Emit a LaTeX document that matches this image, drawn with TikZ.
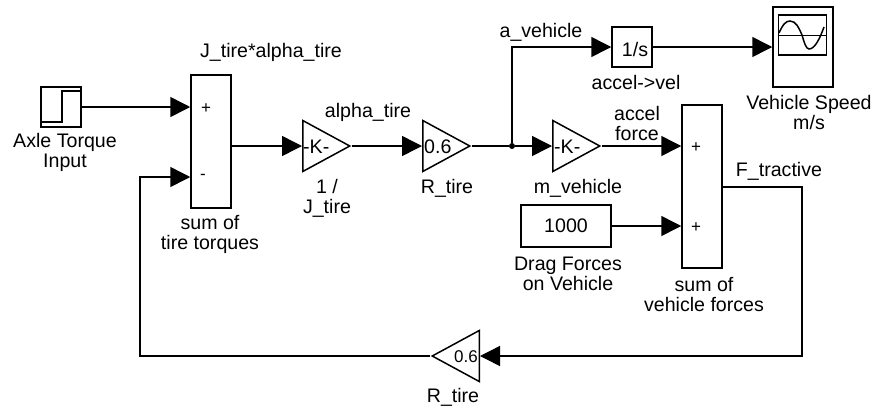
\documentclass[tikz,border=0pt]{standalone}
\usepackage{fontspec}
\setmainfont{Liberation Sans}
\usetikzlibrary{arrows.meta,shapes.geometric}
\tikzset{
  blockbox/.style={draw,line width=1.5pt,inner sep=0pt},
  gainbox/.style={draw,line width=1.5pt,inner sep=0pt,isosceles triangle,isosceles triangle stretches,
    minimum width=51pt,minimum height=47pt},
  lbl/.style={font=\fontsize{19.6}{20}\selectfont,align=center,inner sep=0pt},
  signlbl/.style={font=\fontsize{17}{18}\selectfont,inner sep=0pt},
  wire/.style={line width=1.5pt,->}
}
\begin{document}
\begin{tikzpicture}[x=1pt,y=-1pt,>={Triangle[length=20pt,width=20pt]}]
  \useasboundingbox (0,0) rectangle (874,408);
  % Blocks of the tire loop
  \node[blockbox,minimum width=40pt,minimum height=40pt] (torqueStep) at (61,107) {};
  \node[blockbox,minimum width=40pt,minimum height=133pt] (sumTire) at (211,141.5) {};
  \node[gainbox,anchor=lower side] (gainJ) at (302,146) {};
  \node[gainbox,anchor=lower side] (gainR) at (422,146) {};
  \node[gainbox,anchor=lower side,shape border rotate=180] (gainBack) at (480,356) {};
  % Blocks of the vehicle part
  \node[gainbox,anchor=lower side] (gainM) at (552,146) {};
  \node[blockbox,minimum width=40pt,minimum height=40pt] (integ) at (632,47) {};
  \node[blockbox,minimum width=60pt,minimum height=80pt] (scope) at (803,47) {};
  \node[blockbox,minimum width=90pt,minimum height=42pt,lbl] (drag) at (566,226) {1000};
  \node[blockbox,minimum width=40pt,minimum height=163pt] (sumVeh) at (702,186.5) {};
  \node[blockbox,minimum width=48pt,minimum height=40pt] (screen) at (802.5,35) {};
  \node[circle,fill,inner sep=0pt,minimum size=6pt] (split) at (512,146) {};
  \coordinate (fbk) at (140,177);
  % Icons
  \draw[line width=1.5pt] (42,122) -- (62,122) -- (62,91) -- (80,91);
  \draw[line width=1pt] (screen.west) -- (screen.east);
  \draw[line width=1.5pt] (779,33) .. controls (783,24) and (786,21) .. (790,21)
    .. controls (796,21) and (799,28) .. (802,35)
    .. controls (804,42) and (806,49) .. (809,49)
    .. controls (815,49) and (820,38) .. (824,27);
  % Texts in blocks
  \node[lbl] (integtxt) at (635,49) {1/s};
  \node[lbl,anchor=west] (gainJtxt) at (303,147) {-K-};
  \node[lbl,anchor=west] (gainRtxt) at (424,147) {0.6};
  \node[lbl,anchor=west] (gainMtxt) at (554,147) {-K-};
  \node[lbl,font=\fontsize{17}{20}\selectfont,anchor=east] (gainBacktxt) at (478,357) {0.6};
  \node[signlbl] (plusTire) at (206,109) {+};
  \node[signlbl] (minusTire) at (203,177) {-};
  \node[signlbl] (plusA) at (696,148) {+};
  \node[signlbl] (plusB) at (696,228) {+};
  % Labels
  \node[lbl] (lblStep) at (65,152) {Axle Torque\\Input};
  \node[lbl] (lblSumT) at (271,52) {J\_tire*alpha\_tire};
  \node[lbl] (lblAlpha) at (368,112) {alpha\_tire};
  \node[lbl] (lblGainJ) at (327,198) {1 /\\J\_tire};
  \node[lbl] (lblGainR) at (447,188) {R\_tire};
  \node[lbl] (lblSumTb) at (210,234) {sum of\\tire torques};
  \node[lbl] (lblAveh) at (541,32) {a\_vehicle};
  \node[lbl] (lblInteg) at (636,82) {accel->vel};
  \node[lbl] (lblScope) at (809,112) {Vehicle Speed\\m/s};
  \node[lbl] (lblForce) at (637,123) {accel\\force};
  \node[lbl] (lblGainM) at (578,188) {m\_vehicle};
  \node[lbl] (lblTract) at (779,171) {F\_tractive};
  \node[lbl] (lblDrag) at (568,274) {Drag Forces\\on Vehicle};
  \node[lbl] (lblSumV) at (704,294) {sum of\\vehicle forces};
  \node[lbl] (lblBack) at (453,397) {R\_tire};
  % Connectors
  \draw[wire] (torqueStep.east) -- (torqueStep.east -| sumTire.west);
  \draw[wire] (sumTire.east |- gainJ.lower side) -- (gainJ.lower side);
  \draw[wire] (gainJ.apex) -- (gainR.lower side);
  \draw[wire] (gainR.apex) -- (split) -- (gainM.lower side);
  \draw[wire] (split) |- (integ.west);
  \draw[wire] (integ.east) -- (scope.west);
  \draw[wire] (gainM.apex) -- (gainM.apex -| sumVeh.west);
  \draw[wire] (drag.east) -- (drag.east -| sumVeh.west);
  \draw[wire] (sumVeh.east |- 0,187) -| (802,356) -- (gainBack.lower side);
  \draw[wire] (gainBack.apex) -| (fbk) -- (fbk -| sumTire.west);
\end{tikzpicture}
\end{document}
